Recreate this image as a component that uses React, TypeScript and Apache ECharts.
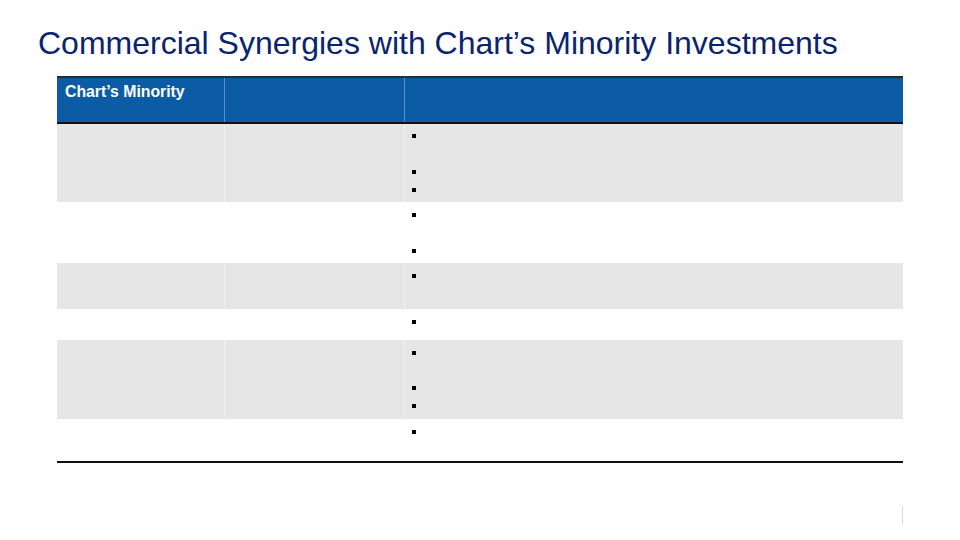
import React, { useEffect, useRef } from "react";
import * as echarts from "echarts";

const title = "Commercial Synergies with Chart’s Minority Investments";
const headerLabels = ["Chart’s Minority", "", ""];
// row boundaries (top edges) and bullet y-offsets in each row
const rowTops = [124, 202, 263, 309, 340, 419];
const tableBottom = 461;
const rowShaded = [true, false, true, false, true, false];
const rowBullets = [[136, 172, 190], [215, 251], [276], [322], [353, 388, 406], [432]];

export default function App() {
  const ref = useRef<HTMLDivElement>(null);
  useEffect(() => {
    if (!ref.current) return;
    const chart = echarts.init(ref.current, null, { renderer: "svg" });
    const L = 57, R = 903;
    const colX = [57, 224, 404];
    const els: any[] = [];
    els.push({ type: "rect", shape: { x: 0, y: 0, width: 960, height: 540 }, style: { fill: "#ffffff" } });
    els.push({
      type: "text", x: 38, y: 43,
      style: { text: title, fill: "#0a2470", font: "32px Arial, 'Liberation Sans', sans-serif", textVerticalAlign: "middle" },
    });
    // header
    els.push({ type: "rect", shape: { x: L, y: 76, width: R - L, height: 2 }, style: { fill: "#2b2b2b" } });
    els.push({ type: "rect", shape: { x: L, y: 78, width: R - L, height: 44 }, style: { fill: "#0b5ca5" } });
    // rows
    rowTops.forEach((t, i) => {
      const b = i + 1 < rowTops.length ? rowTops[i + 1] : tableBottom;
      if (rowShaded[i]) {
        els.push({ type: "rect", shape: { x: L, y: t, width: R - L, height: b - t }, style: { fill: "#e6e6e6" } });
      }
    });
    // column dividers
    [colX[1], colX[2]].forEach((x) => {
      els.push({ type: "line", shape: { x1: x + 0.5, y1: 78, x2: x + 0.5, y2: 122 }, style: { stroke: "#5b8fc7", lineWidth: 1 } });
      els.push({ type: "line", shape: { x1: x + 0.5, y1: 124, x2: x + 0.5, y2: tableBottom }, style: { stroke: "#f2f2f2", lineWidth: 1 } });
    });
    // blank out dividers in white rows
    rowTops.forEach((t, i) => {
      const b = i + 1 < rowTops.length ? rowTops[i + 1] : tableBottom;
      if (!rowShaded[i]) {
        [colX[1], colX[2]].forEach((x) => {
          els.push({ type: "rect", shape: { x, y: t, width: 1, height: b - t }, style: { fill: "#ffffff" } });
        });
      }
    });
    els.push({ type: "rect", shape: { x: L, y: 122, width: R - L, height: 2 }, style: { fill: "#111111" } });
    els.push({ type: "rect", shape: { x: L, y: tableBottom, width: R - L, height: 2 }, style: { fill: "#111111" } });
    headerLabels.forEach((h, i) => {
      if (!h) return;
      els.push({
        type: "text", x: colX[i] + 8, y: 91,
        style: { text: h, fill: "#ffffff", font: "bold 15.8px Arial, 'Liberation Sans', sans-serif", textVerticalAlign: "middle" },
      });
    });
    rowBullets.flat().forEach((y) => {
      els.push({ type: "rect", shape: { x: 412, y: y - 2, width: 4, height: 4 }, style: { fill: "#000000" } });
    });
    els.push({ type: "rect", shape: { x: 902, y: 506, width: 1, height: 19 }, style: { fill: "#d9d9d9" } });
    chart.setOption({ animation: false, graphic: { elements: els } });
    return () => chart.dispose();
  }, []);
  return <div ref={ref} style={{ width: 960, height: 540, position: "absolute", left: 0, top: 0 }} />;
}
